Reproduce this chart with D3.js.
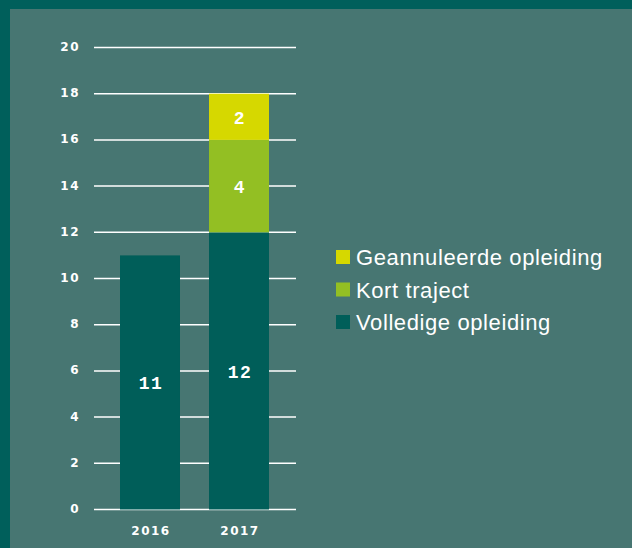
<!DOCTYPE html>
<html lang="nl">
<head>
    <meta charset="UTF-8">
    <title>Opleidingen per jaar</title>
    <script src="https://d3js.org/d3.v7.min.js"></script>
    <style>
        body { margin: 0; background: #005f5b; }
        .tick-label { font-family: "DejaVu Sans", sans-serif; font-weight: bold; font-size: 12px; fill: #ffffff; letter-spacing: 1.5px; }
        .bar-label { font-family: "Liberation Mono", monospace; font-weight: bold; font-size: 18px; fill: #ffffff; letter-spacing: 1.5px; }
        .legend-text { font-family: "Liberation Sans", Arial, sans-serif; font-size: 22px; fill: #ffffff; letter-spacing: 0.6px; }
    </style>
</head>
<body>
    <svg width="632" height="548"></svg>
    <script>
        // data
        const years = ["2016", "2017"];
        const series = ["Volledige opleiding", "Kort traject", "Geannuleerde opleiding"];
        const volledig = [11, 12];
        const kort = [0, 4];
        const geannuleerd = [0, 2];
        const yTicks = [0, 2, 4, 6, 8, 10, 12, 14, 16, 18, 20];
        const colors = ["#005e59", "#93bf23", "#d6d800"];

        const rows = years.map((y, i) => ({
            year: y,
            "Volledige opleiding": volledig[i],
            "Kort traject": kort[i],
            "Geannuleerde opleiding": geannuleerd[i]
        }));

        const svg = d3.select("svg");

        // achtergrond + rand
        svg.append("rect").attr("x", 0).attr("y", 0).attr("width", 632).attr("height", 548).attr("fill", "#005f5b");
        svg.append("rect").attr("x", 10).attr("y", 9).attr("width", 622).attr("height", 539).attr("fill", "#477672");

        const x = d3.scaleBand()
            .domain(years)
            .range([120, 269])
            .paddingInner(0.326)
            .paddingOuter(0);

        const y = d3.scaleLinear()
            .domain([0, 20])
            .range([509.5, 47.5]);

        // rasterlijnen
        svg.append("g")
            .selectAll("line")
            .data(yTicks)
            .enter().append("line")
            .attr("x1", 94)
            .attr("x2", 296)
            .attr("y1", d => y(d))
            .attr("y2", d => y(d))
            .attr("stroke", "#ffffff")
            .attr("stroke-width", 1.5);

        svg.append("g")
            .selectAll("text")
            .data(yTicks)
            .enter().append("text")
            .attr("class", "tick-label")
            .attr("x", 80)
            .attr("y", d => y(d) + 3.5)
            .attr("text-anchor", "end")
            .text(d => d);

        // gestapelde balken
        const stack = d3.stack().keys(series)(rows);

        const layer = svg.append("g")
            .selectAll("g")
            .data(stack)
            .enter().append("g")
            .attr("fill", (d, i) => colors[i]);

        layer.selectAll("rect")
            .data(d => d)
            .enter().append("rect")
            .attr("x", d => x(d.data.year))
            .attr("y", d => y(d[1]))
            .attr("width", x.bandwidth())
            .attr("height", d => y(d[0]) - y(d[1]));

        layer.selectAll("text")
            .data(d => d.filter(s => s[1] - s[0] > 0))
            .enter().append("text")
            .attr("class", "bar-label")
            .attr("x", d => x(d.data.year) + x.bandwidth() / 2 + 1)
            .attr("y", d => (y(d[0]) + y(d[1])) / 2 + 7)
            .attr("text-anchor", "middle")
            .text(d => d[1] - d[0]);

        // x-as labels
        svg.append("g")
            .selectAll("text")
            .data(years)
            .enter().append("text")
            .attr("class", "tick-label")
            .attr("x", d => x(d) + x.bandwidth() / 2 + 1)
            .attr("y", 535)
            .attr("text-anchor", "middle")
            .text(d => d);

        // legenda
        const legendItems = series.slice().reverse();
        const legendColors = colors.slice().reverse();
        const legend = svg.append("g")
            .selectAll("g")
            .data(legendItems)
            .enter().append("g")
            .attr("transform", (d, i) => "translate(336," + (250 + i * 32.5) + ")");

        legend.append("rect")
            .attr("width", 14)
            .attr("height", 14)
            .attr("fill", (d, i) => legendColors[i]);

        legend.append("text")
            .attr("class", "legend-text")
            .attr("x", 20)
            .attr("y", 15)
            .text(d => d);
    </script>
</body>
</html>
